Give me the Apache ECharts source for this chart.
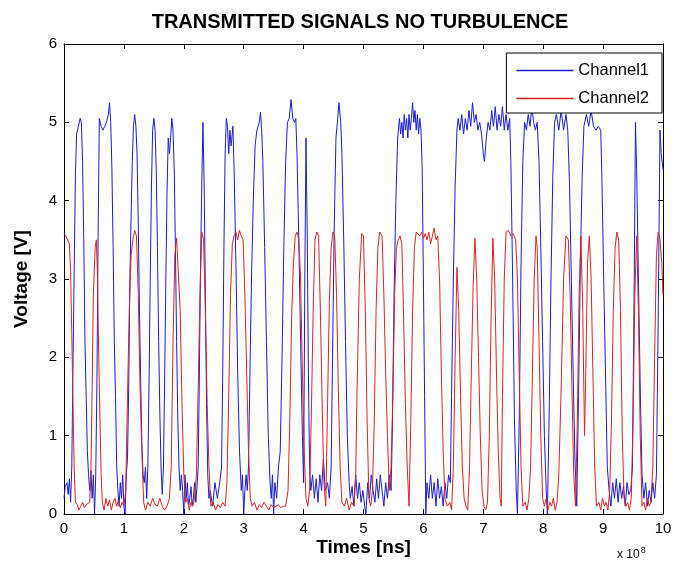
<!DOCTYPE html>
<html>
<head>
<meta charset="utf-8">
<script src="https://cdn.jsdelivr.net/npm/echarts@6/dist/echarts.min.js"></script>
<style>
  html, body { margin: 0; padding: 0; background: #fff; }
  #chart { width: 680px; height: 570px; }
</style>
</head>
<body>
<div id="chart"></div>
<script>
// time in units of 1e8 ns, voltage in V
const ch1 = [
  [0.00,0.2],[0.02,0.35],[0.05,0.4],[0.07,0.25],[0.09,0.45],[0.11,0.15],[0.13,0.6],[0.15,1.9],[0.17,3.1],[0.19,4.3],
  [0.21,4.85],[0.24,4.95],[0.27,5.05],[0.29,5.0],[0.31,4.5],[0.33,3.5],[0.35,2.2],[0.37,1.5],[0.39,0.8],[0.41,0.5],
  [0.43,0.3],[0.45,0.55],[0.47,0.2],[0.49,0.5],[0.51,0.0],[0.53,0.5],[0.55,1.7],[0.57,3.6],[0.59,5.05],[0.62,4.95],
  [0.65,4.9],[0.68,4.95],[0.71,5.0],[0.74,5.1],[0.76,5.25],[0.78,5.0],[0.80,4.4],[0.82,3.4],[0.84,2.2],[0.86,1.5],
  [0.88,0.6],[0.90,0.3],[0.92,0.1],[0.94,0.4],[0.96,0.2],[0.98,0.5],[1.00,0.1],[1.02,0.0],[1.04,0.5],[1.06,0.7],
  [1.08,1.6],[1.10,3.0],[1.12,3.8],[1.14,4.5],[1.16,4.95],[1.18,5.1],[1.20,4.95],[1.22,4.6],[1.24,3.7],[1.26,2.6],
  [1.28,1.7],[1.30,0.9],[1.32,0.5],[1.34,0.4],[1.36,0.6],[1.38,0.2],[1.40,0.6],[1.42,1.7],[1.44,3.0],[1.46,4.2],
  [1.48,4.9],[1.50,5.05],[1.52,4.9],[1.54,4.4],[1.56,3.4],[1.58,2.2],[1.60,1.3],[1.62,0.6],[1.64,0.25],[1.66,0.6],
  [1.68,1.7],[1.70,3.0],[1.72,4.1],[1.74,4.8],[1.76,4.6],[1.78,4.8],[1.80,5.05],[1.82,4.9],[1.84,4.4],[1.86,3.4],
  [1.88,2.2],[1.90,1.2],[1.92,0.6],[1.94,0.3],[1.96,0.5],[1.98,0.3],[2.00,0.0],[2.02,0.5],[2.04,0.2],[2.06,0.4],
  [2.08,0.1],[2.10,0.2],[2.12,0.35],[2.14,0.1],[2.16,0.2],[2.18,0.4],[2.20,0.15],[2.22,0.35],[2.24,0.6],[2.26,1.8],
  [2.28,3.2],[2.30,4.2],[2.32,5.0],[2.34,4.2],[2.36,2.8],[2.38,1.4],[2.40,0.5],[2.42,0.2],[2.44,0.3],[2.48,0.1],
  [2.52,0.4],[2.56,0.2],[2.60,0.4],[2.63,0.6],[2.65,1.8],[2.67,3.4],[2.69,4.6],[2.71,5.05],[2.73,4.95],[2.75,4.6],
  [2.77,4.9],[2.79,4.7],[2.82,4.95],[2.84,4.4],[2.87,3.2],[2.90,1.8],[2.93,0.8],[2.96,0.3],[2.98,0.5],[3.00,0.0],
  [3.02,0.3],[3.04,0.5],[3.06,0.3],[3.08,0.6],[3.10,1.6],[3.13,3.0],[3.16,4.0],[3.19,4.7],[3.22,4.9],[3.26,5.0],
  [3.28,5.13],[3.30,4.9],[3.32,4.5],[3.35,3.4],[3.38,2.2],[3.41,1.0],[3.44,0.4],[3.46,0.2],[3.48,0.5],[3.50,0.0],
  [3.52,0.4],[3.55,0.2],[3.58,0.6],[3.61,0.8],[3.64,2.0],[3.67,3.4],[3.70,4.5],[3.73,5.0],[3.76,5.05],[3.79,5.29],
  [3.82,5.05],[3.85,5.0],[3.87,5.05],[3.89,4.6],[3.92,3.5],[3.95,2.2],[3.98,1.0],[4.00,0.4],[4.02,3.0],[4.04,4.8],
  [4.06,3.6],[4.08,1.8],[4.10,0.6],[4.12,0.3],[4.15,0.5],[4.18,0.2],[4.21,0.45],[4.24,0.15],[4.27,0.5],[4.30,0.3],
  [4.33,0.7],[4.36,0.3],[4.40,0.4],[4.43,0.2],[4.46,0.6],[4.48,1.8],[4.51,3.6],[4.54,4.8],[4.57,5.05],[4.59,5.25],
  [4.62,5.0],[4.64,4.6],[4.67,3.5],[4.70,2.2],[4.73,1.0],[4.76,0.4],[4.78,0.2],[4.81,0.35],[4.84,0.1],[4.87,0.5],
  [4.90,0.2],[4.93,0.4],[4.96,0.15],[4.99,0.3],[5.02,0.1],[5.04,0.0],[5.07,0.4],[5.10,0.2],[5.13,0.5],[5.16,0.3],
  [5.19,0.15],[5.22,0.45],[5.25,0.2],[5.28,0.5],[5.31,0.3],[5.34,0.1],[5.37,0.4],[5.40,0.2],[5.43,0.5],[5.46,0.3],
  [5.48,1.0],[5.51,2.8],[5.54,4.0],[5.57,4.8],[5.60,5.05],[5.62,4.85],[5.64,5.0],[5.66,4.8],[5.68,5.1],[5.70,4.9],
  [5.72,5.05],[5.74,4.8],[5.76,5.1],[5.78,4.9],[5.80,5.05],[5.82,5.25],[5.84,5.0],[5.86,5.15],[5.88,4.9],[5.90,5.1],
  [5.92,4.85],[5.94,5.05],[5.96,4.9],[5.98,4.4],[6.00,3.0],[6.02,1.5],[6.04,0.0],[6.06,0.4],[6.09,0.2],[6.12,0.5],
  [6.15,0.2],[6.18,0.4],[6.21,0.1],[6.24,0.45],[6.27,0.2],[6.30,0.35],[6.33,0.1],[6.36,0.4],[6.39,0.2],[6.42,0.5],
  [6.45,0.4],[6.47,1.5],[6.50,3.0],[6.53,4.2],[6.56,4.9],[6.58,5.05],[6.61,4.9],[6.64,5.1],[6.67,4.85],[6.70,5.05],
  [6.73,4.9],[6.76,5.15],[6.79,4.95],[6.82,5.25],[6.85,5.0],[6.88,5.1],[6.91,4.9],[6.94,5.0],[6.97,4.85],[7.00,4.6],
  [7.02,4.5],[7.05,4.8],[7.08,5.0],[7.11,4.9],[7.14,5.15],[7.17,4.95],[7.20,5.2],[7.23,4.9],[7.26,5.1],[7.29,4.95],
  [7.32,5.2],[7.35,4.9],[7.38,5.1],[7.41,4.9],[7.44,5.05],[7.46,4.5],[7.49,3.0],[7.52,1.2],[7.55,0.3],[7.57,0.0],
  [7.60,1.2],[7.63,3.2],[7.66,4.5],[7.69,5.0],[7.72,4.9],[7.75,5.1],[7.78,4.95],[7.81,5.2],[7.84,5.0],[7.87,4.9],
  [7.90,5.0],[7.93,4.5],[7.96,3.4],[7.99,2.2],[8.02,1.0],[8.05,0.3],[8.07,0.0],[8.10,1.3],[8.13,3.0],[8.16,4.3],
  [8.19,5.0],[8.22,5.1],[8.26,4.9],[8.30,5.15],[8.34,4.9],[8.38,5.1],[8.41,4.9],[8.44,4.2],[8.47,3.0],[8.50,1.8],
  [8.53,0.7],[8.56,0.1],[8.59,1.5],[8.62,3.2],[8.65,4.3],[8.68,4.95],[8.72,5.1],[8.76,4.95],[8.80,5.15],[8.84,4.95],
  [8.88,4.9],[8.92,4.95],[8.96,4.9],[8.98,4.3],[9.01,3.0],[9.04,1.8],[9.07,0.6],[9.10,0.3],[9.13,0.1],[9.16,0.4],
  [9.19,0.2],[9.22,0.45],[9.25,0.15],[9.28,0.4],[9.31,0.2],[9.34,0.35],[9.37,0.1],[9.40,0.4],[9.43,0.25],[9.46,0.3],
  [9.49,0.6],[9.52,3.0],[9.54,5.0],[9.56,4.4],[9.59,3.0],[9.62,1.6],[9.65,0.5],[9.68,0.2],[9.71,0.4],[9.74,0.1],
  [9.77,0.3],[9.80,0.15],[9.83,0.4],[9.86,0.2],[9.89,0.5],[9.92,2.5],[9.95,4.9],[9.97,4.6],[10.0,4.4]
];

const ch2 = [
  [0.00,3.58],[0.03,3.55],[0.06,3.5],[0.09,3.45],[0.11,3.1],[0.13,2.3],[0.15,1.4],[0.17,0.6],[0.19,0.15],[0.22,0.12],
  [0.25,0.05],[0.28,0.1],[0.31,0.15],[0.34,0.08],[0.37,0.12],[0.40,0.1],[0.43,0.15],[0.45,0.6],[0.47,1.6],[0.49,2.8],
  [0.52,3.4],[0.54,3.5],[0.56,3.0],[0.58,2.0],[0.60,1.2],[0.62,0.5],[0.64,0.15],[0.67,0.05],[0.70,0.2],[0.73,0.1],
  [0.76,0.18],[0.79,0.05],[0.82,0.15],[0.85,0.2],[0.88,0.1],[0.91,0.18],[0.94,0.08],[0.97,0.15],[1.00,0.1],[1.03,0.3],
  [1.06,1.5],[1.09,2.6],[1.12,3.3],[1.15,3.5],[1.18,3.62],[1.21,3.55],[1.24,2.8],[1.27,1.6],[1.30,0.8],[1.33,0.15],
  [1.36,0.05],[1.40,0.15],[1.44,0.1],[1.48,0.2],[1.52,0.12],[1.56,0.1],[1.60,0.2],[1.64,0.1],[1.68,0.05],[1.72,0.1],
  [1.76,0.2],[1.79,0.6],[1.82,2.2],[1.85,3.3],[1.88,3.52],[1.91,3.5],[1.94,2.6],[1.97,1.4],[2.00,0.5],[2.03,0.15],
  [2.06,0.2],[2.09,0.05],[2.12,0.15],[2.15,0.1],[2.18,0.2],[2.21,0.5],[2.24,1.6],[2.27,2.8],[2.30,3.6],[2.33,3.5],
  [2.36,2.6],[2.39,1.4],[2.42,0.6],[2.45,0.1],[2.49,0.15],[2.53,0.05],[2.57,0.12],[2.61,0.08],[2.65,0.15],[2.69,0.1],
  [2.72,0.4],[2.75,1.5],[2.78,2.8],[2.81,3.45],[2.84,3.55],[2.87,3.6],[2.90,3.5],[2.93,3.62],[2.96,3.55],[2.99,3.5],
  [3.02,2.8],[3.05,1.8],[3.08,0.8],[3.11,0.2],[3.14,0.1],[3.18,0.15],[3.22,0.05],[3.26,0.12],[3.30,0.08],[3.34,0.15],
  [3.38,0.1],[3.42,0.05],[3.46,0.12],[3.50,0.08],[3.54,0.1],[3.58,0.12],[3.62,0.08],[3.66,0.1],[3.70,0.1],[3.74,0.3],
  [3.77,1.2],[3.80,2.5],[3.83,3.2],[3.86,3.55],[3.89,3.6],[3.92,3.5],[3.95,3.0],[3.98,1.8],[4.01,0.8],[4.04,0.2],
  [4.07,0.1],[4.10,0.3],[4.13,1.3],[4.16,2.6],[4.19,3.5],[4.22,3.6],[4.25,3.55],[4.28,2.6],[4.31,1.4],[4.34,0.4],
  [4.37,0.1],[4.40,1.4],[4.43,2.7],[4.46,3.4],[4.49,3.6],[4.52,3.55],[4.55,2.8],[4.58,1.6],[4.61,0.6],[4.64,0.15],
  [4.68,0.1],[4.72,0.2],[4.76,0.05],[4.80,0.15],[4.84,0.1],[4.87,0.5],[4.89,1.5],[4.93,3.0],[4.97,3.58],[5.00,3.55],
  [5.03,2.6],[5.06,1.2],[5.09,0.2],[5.12,0.1],[5.15,0.3],[5.18,1.2],[5.21,2.6],[5.24,3.4],[5.27,3.6],[5.31,3.55],
  [5.34,2.8],[5.37,1.8],[5.40,1.0],[5.43,0.3],[5.46,0.6],[5.49,1.5],[5.52,2.8],[5.55,3.4],[5.58,3.5],[5.61,3.55],
  [5.64,3.45],[5.67,2.5],[5.70,1.4],[5.73,0.6],[5.76,0.1],[5.79,1.2],[5.82,2.6],[5.85,3.4],[5.88,3.6],[5.91,3.6],
  [5.94,3.55],[5.97,3.6],[6.00,3.52],[6.03,3.58],[6.06,3.5],[6.09,3.6],[6.12,3.45],[6.15,3.55],[6.18,3.65],[6.21,3.5],
  [6.24,3.55],[6.27,3.0],[6.30,1.8],[6.33,0.8],[6.36,0.2],[6.40,0.1],[6.44,0.15],[6.47,0.05],[6.50,0.6],[6.53,2.0],
  [6.56,3.15],[6.59,2.6],[6.62,1.5],[6.65,0.6],[6.68,0.2],[6.71,0.1],[6.74,0.05],[6.77,0.6],[6.80,1.8],[6.83,2.9],
  [6.86,3.52],[6.89,3.0],[6.92,2.0],[6.95,1.0],[6.98,0.3],[7.01,0.1],[7.04,0.05],[7.07,0.15],[7.10,1.0],[7.13,2.5],
  [7.16,3.52],[7.19,3.0],[7.22,1.8],[7.25,0.8],[7.28,0.2],[7.30,0.1],[7.32,1.5],[7.35,3.0],[7.38,3.6],[7.42,3.62],
  [7.46,3.55],[7.50,3.58],[7.54,3.5],[7.57,3.0],[7.60,1.8],[7.63,0.6],[7.66,0.1],[7.70,0.15],[7.73,0.05],[7.76,0.2],
  [7.79,0.6],[7.82,1.8],[7.85,3.0],[7.88,3.55],[7.90,3.4],[7.93,2.2],[7.96,1.0],[7.99,0.2],[8.02,0.1],[8.05,0.2],
  [8.08,0.05],[8.11,0.15],[8.14,0.1],[8.17,0.2],[8.20,0.05],[8.23,0.15],[8.26,0.5],[8.30,1.6],[8.34,3.0],[8.38,3.55],
  [8.42,3.5],[8.45,2.8],[8.48,1.6],[8.51,0.5],[8.54,0.1],[8.57,1.2],[8.60,2.8],[8.63,3.55],[8.66,2.6],[8.69,1.0],
  [8.71,1.8],[8.74,3.2],[8.77,3.55],[8.80,3.0],[8.83,1.8],[8.86,0.6],[8.89,0.1],[8.93,0.15],[8.96,0.05],[8.99,0.2],
  [9.02,0.1],[9.05,0.15],[9.08,0.05],[9.11,0.3],[9.14,1.2],[9.17,2.6],[9.20,3.4],[9.23,3.6],[9.26,3.5],[9.29,2.6],
  [9.32,1.0],[9.35,0.2],[9.38,0.1],[9.41,0.15],[9.44,0.05],[9.47,0.2],[9.50,1.2],[9.53,2.8],[9.56,3.55],[9.59,2.6],
  [9.62,1.0],[9.65,0.1],[9.68,0.15],[9.71,0.05],[9.74,0.2],[9.77,0.1],[9.80,0.15],[9.83,0.6],[9.86,2.0],[9.89,3.3],
  [9.92,3.6],[9.95,3.5],[9.98,3.2],[10.0,2.8]
];

const seriesNames = ['Channel1', 'Channel2'];
const seriesColors = ['#1c1cd0', '#d82424'];

const chart = echarts.init(document.getElementById('chart'));

const fontFamily = '"Liberation Sans", Arial, sans-serif';

// mirrored axes give the MATLAB box with ticks on all four sides
const makeAxis = (extra) => Object.assign({
  type: 'value',
  axisLine: { show: true, onZero: false, lineStyle: { color: '#000', width: 1 } },
  axisTick: { show: true, inside: true, length: 5, lineStyle: { color: '#000', width: 1 } },
  splitLine: { show: false }
}, extra);

chart.setOption({
  animation: false,
  backgroundColor: '#fff',
  grid: { left: 64, right: 17, top: 44, bottom: 56 },
  graphic: [
    {
      type: 'text',
      left: 617,
      top: 546,
      style: {
        text: 'x 10{sup|8}',
        font: '12px ' + fontFamily,
        fill: '#000',
        rich: { sup: { fontSize: 9, verticalAlign: 'top', padding: [0, 0, 9, 1] } }
      }
    }
  ],
  title: {
    text: 'TRANSMITTED SIGNALS NO TURBULENCE',
    left: 355,
    top: 7,
    textAlign: 'center',
    textStyle: { fontFamily: fontFamily, fontSize: 20, fontWeight: 'bold', color: '#000' }
  },
  legend: {
    data: seriesNames,
    orient: 'vertical',
    right: 18,
    top: 53,
    icon: 'rect',
    itemWidth: 57,
    itemHeight: 1.5,
    itemGap: 11,
    padding: [9, 13, 6, 10],
    backgroundColor: '#fff',
    borderColor: '#000',
    borderWidth: 1,
    borderRadius: 0,
    textStyle: { fontFamily: fontFamily, fontSize: 16.5, color: '#000' }
  },
  xAxis: [
    makeAxis({
      min: 0, max: 10, interval: 1,
      name: 'Times [ns]',
      nameLocation: 'middle',
      nameGap: 24,
      nameMoveOverlap: false,
      nameTextStyle: { fontFamily: fontFamily, fontSize: 19, fontWeight: 'bold', color: '#000' },
      axisLabel: { fontFamily: fontFamily, fontSize: 15, color: '#000', margin: 7 }
    }),
    makeAxis({
      position: 'top', min: 0, max: 10, interval: 1,
      axisLabel: { show: false }
    })
  ],
  yAxis: [
    makeAxis({
      min: 0, max: 6, interval: 1,
      name: 'Voltage [V]',
      nameLocation: 'middle',
      nameGap: 33,
      nameMoveOverlap: false,
      nameTextStyle: { fontFamily: fontFamily, fontSize: 19, fontWeight: 'bold', color: '#000' },
      axisLabel: { fontFamily: fontFamily, fontSize: 15, color: '#000', margin: 7 }
    }),
    makeAxis({
      position: 'right', min: 0, max: 6, interval: 1,
      axisLabel: { show: false }
    })
  ],
  series: [
    {
      name: seriesNames[0],
      type: 'line',
      data: ch1,
      showSymbol: false,
      symbol: 'none',
      color: seriesColors[0],
      lineStyle: { width: 1, color: seriesColors[0] }
    },
    {
      name: seriesNames[1],
      type: 'line',
      data: ch2,
      showSymbol: false,
      symbol: 'none',
      color: seriesColors[1],
      lineStyle: { width: 1, color: seriesColors[1] }
    }
  ]
});
</script>
</body>
</html>
